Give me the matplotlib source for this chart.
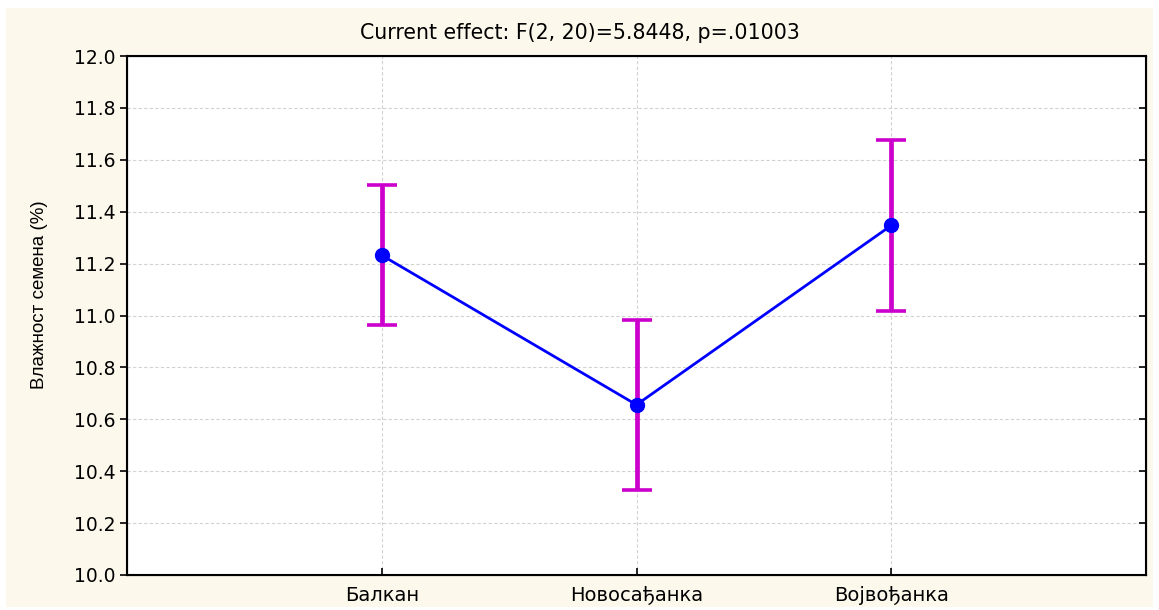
import numpy as np
import matplotlib
matplotlib.use("Agg")
import matplotlib.pyplot as plt
from matplotlib.patches import Rectangle

# data
sorts = ["Балкан", "Новосађанка", "Војвођанка"]
means = [11.232, 10.656, 11.347]
err_up = [0.270, 0.327, 0.330]
err_down = [0.267, 0.328, 0.328]
y_ticks = [10.0, 10.2, 10.4, 10.6, 10.8, 11.0, 11.2, 11.4, 11.6, 11.8, 12.0]

subtitle = "Current effect: F(2, 20)=5.8448, p=.01003"
ylabel = "Влажност семена (%)"

plt.rcParams['font.family'] = ['DejaVu Sans']

fig = plt.figure(figsize=(11.59, 6.10), dpi=100)
fig.patch.set_facecolor("white")
# cream panel behind the plot
bg = Rectangle((6/1159, 3/610), 1147/1159, 599/610, transform=fig.transFigure,
               facecolor="#fdf8ec", edgecolor="none", zorder=-10)
fig.add_artist(bg)

ax = fig.add_axes([127/1159, 1 - 575/610, 1019/1159, 519/610])
ax.set_facecolor("white")

x = np.arange(1, len(sorts) + 1)
ax.errorbar(x, means, yerr=[err_down, err_up], fmt="none", ecolor="#cc00cc",
            elinewidth=3.4, capsize=11, capthick=2.6, zorder=3)
ax.plot(x, means, color="#0000ff", lw=2.0, zorder=4)
ax.plot(x, means, "o", color="#0000ff", ms=10, zorder=5)

ax.set_xlim(0, 4)
ax.set_ylim(10.0, 12.0)
ax.set_xticks(x)
ax.set_xticklabels(sorts, fontsize=14)
ax.set_yticks(y_ticks)
ax.set_yticklabels([f"{v:.1f}" for v in y_ticks], fontsize=13.5)

ax.grid(True, color="#d2d2d2", linestyle=(0, (3, 2)), linewidth=0.8)
ax.set_axisbelow(True)

for s in ax.spines.values():
    s.set_color("black")
    s.set_linewidth(1.5)

ax.tick_params(axis="y", direction="out", length=5, width=1.2, pad=3.5)
ax.tick_params(axis="x", direction="in", length=5, width=1.2, pad=8)
# inward ticks on the right spine
ax2 = ax.twinx()
ax2.set_ylim(ax.get_ylim())
ax2.set_yticks(y_ticks)
ax2.set_yticklabels([])
ax2.tick_params(axis="y", direction="in", length=5, width=1.2)

ax.set_ylabel(ylabel, fontsize=13.5, family=['Liberation Sans Narrow', 'Liberation Sans'])
ax.yaxis.set_label_coords(-0.0775, 0.541)
fig.text(0.5, 1 - 33/610, subtitle, ha="center", va="center", fontsize=14.8)

fig.savefig("out.png", dpi=100)
